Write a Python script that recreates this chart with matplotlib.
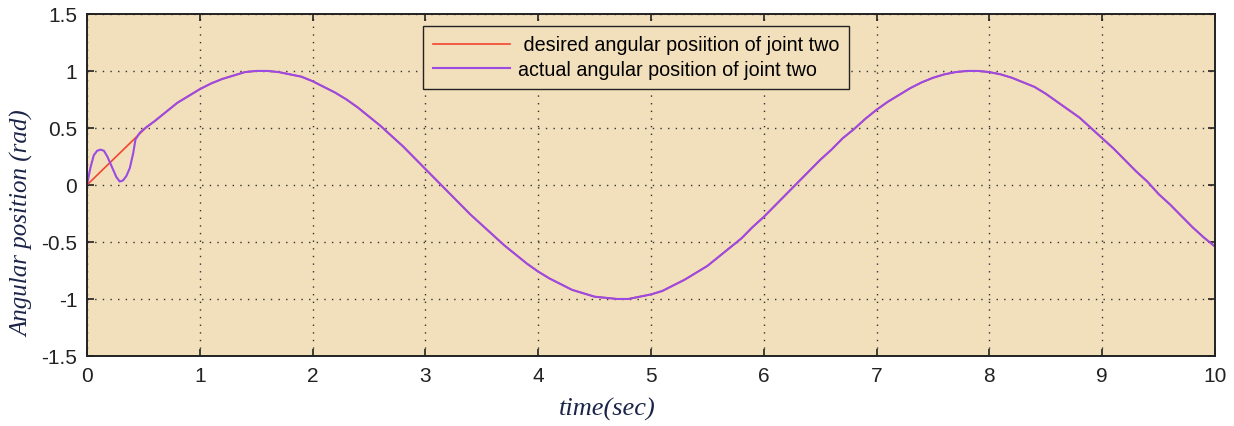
import matplotlib
matplotlib.use("Agg")
import matplotlib.pyplot as plt

# sine part shared by both curves (t from 0.6 s to 10 s, every 0.1 s)
wave_t = [round(0.6 + 0.1 * i, 1) for i in range(95)]
wave_y = [0.56, 0.64, 0.72, 0.78, 0.84, 0.89, 0.93, 0.96, 0.99, 1.00,
          1.00, 0.99, 0.97, 0.95, 0.91, 0.86, 0.81, 0.75, 0.68, 0.60,
          0.52, 0.43, 0.34, 0.24, 0.14, 0.04, -0.06, -0.16, -0.26, -0.35,
          -0.44, -0.53, -0.61, -0.69, -0.76, -0.82, -0.87, -0.92, -0.95, -0.98,
          -0.99, -1.00, -1.00, -0.98, -0.96, -0.93, -0.88, -0.83, -0.77, -0.71,
          -0.63, -0.55, -0.47, -0.37, -0.28, -0.18, -0.08, 0.02, 0.12, 0.22,
          0.31, 0.41, 0.49, 0.58, 0.66, 0.73, 0.79, 0.85, 0.90, 0.94,
          0.97, 0.99, 1.00, 1.00, 0.99, 0.97, 0.94, 0.90, 0.86, 0.80,
          0.73, 0.66, 0.59, 0.50, 0.41, 0.32, 0.22, 0.12, 0.03, -0.08,
          -0.17, -0.27, -0.37, -0.46, -0.54]

# start of the desired trajectory
desired_t0 = [0.0, 0.52]
desired_y0 = [0.0, 0.50]

# transient of the joint before it locks onto the reference
actual_t0 = [0.0, 0.03, 0.06, 0.09, 0.12, 0.15, 0.18, 0.22, 0.26, 0.29,
             0.32, 0.35, 0.38, 0.41, 0.43, 0.47, 0.53]
actual_y0 = [0.0, 0.15, 0.26, 0.30, 0.31, 0.30, 0.25, 0.16, 0.07, 0.03,
             0.04, 0.08, 0.15, 0.28, 0.40, 0.46, 0.51]

desired_t = desired_t0 + wave_t
desired_y = desired_y0 + wave_y
actual_t = actual_t0 + wave_t
actual_y = actual_y0 + wave_y

xticks = list(range(0, 11))
yticks = [-1.5, -1, -0.5, 0, 0.5, 1, 1.5]
yticklabels = ["-1.5", "-1", "-0.5", "0", "0.5", "1", "1.5"]

bg = "#f2dfbb"
label_color = "#1b2448"
serif = ["Liberation Serif", "DejaVu Serif"]
sans = ["Liberation Sans", "DejaVu Sans"]

fig = plt.figure(figsize=(12.34, 4.27), dpi=100)
ax = fig.add_axes([0.0705, 0.164, 0.9141, 0.801])
ax.set_facecolor(bg)

ax.plot(desired_t, desired_y, color="#f2452f", lw=1.2,
        label=" desired angular posiition of joint two")
ax.plot(actual_t, actual_y, color="#9b4ae4", lw=1.5,
        label="actual angular position of joint two")

ax.set_xlim(0, 10)
ax.set_ylim(-1.5, 1.5)
ax.set_xticks(xticks)
ax.set_yticks(yticks)
ax.set_yticklabels(yticklabels)

for lab in ax.get_xticklabels() + ax.get_yticklabels():
    lab.set_family(sans)
    lab.set_fontsize(15)
    lab.set_color("#222222")

ax.tick_params(direction="in", length=5, width=1.2, top=True, right=True,
               color="#222222", pad=7)
ax.grid(True, color="#333333", linestyle=(0, (1, 4.5)), linewidth=1.0)

for s in ax.spines.values():
    s.set_linewidth(1.4)
    s.set_color("#222222")

ax.set_xlabel("time(sec)", family=serif, style="italic", fontsize=19,
              color=label_color)
ax.xaxis.set_label_coords(0.461, -0.12)
ax.set_ylabel("Angular position (rad)", family=serif, style="italic",
              fontsize=18, color=label_color)
ax.yaxis.set_label_coords(-0.047, 0.39)

leg = ax.legend(loc="upper left", bbox_to_anchor=(0.298, 0.966),
                prop={"family": sans, "size": 14.2},
                fancybox=False, framealpha=1, facecolor=bg, edgecolor="#222222",
                handlelength=3.9, handletextpad=0.4, borderpad=0.5,
                labelspacing=0.3, borderaxespad=0)
leg.get_frame().set_linewidth(1.0)

fig.savefig("out.png", dpi=100, facecolor="white")
